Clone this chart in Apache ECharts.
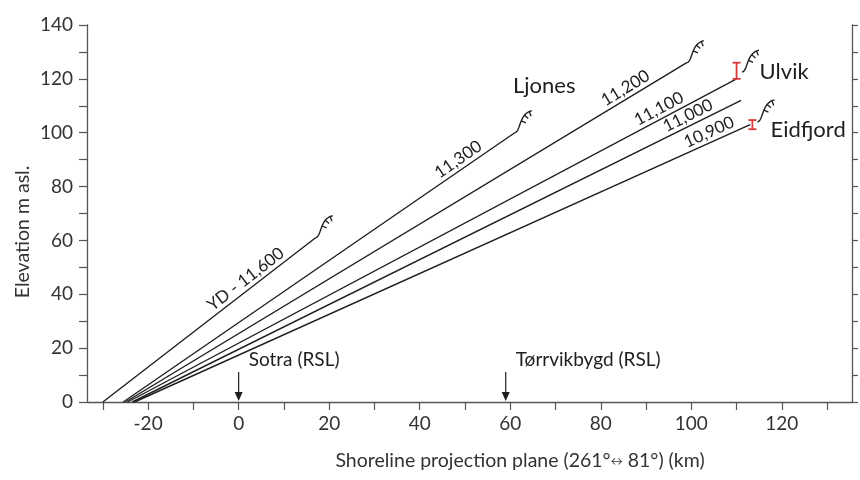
<!DOCTYPE html>
<html><head><meta charset="utf-8">
<script src="https://cdn.jsdelivr.net/npm/echarts@6/dist/echarts.min.js"></script>
<style>html,body{margin:0;padding:0;background:#fff}#c{width:860px;height:480px}</style>
</head><body><div id="c"></div>
<script>
// ---- axis values ----
const xMin = -33.5, xMax = 135.5;
const xTickValues = [-30,-20,-10,0,10,20,30,40,50,60,70,80,90,100,110,120,130];
const xLabelValues = [-20,0,20,40,60,80,100,120];
const yTickValues = [0,10,20,30,40,50,60,70,80,90,100,110,120,130,140];
const yLabelValues = [0,20,40,60,80,100,120,140];

// ---- shorelines (km, m asl.) ----
const shorelineNames = ['YD - 11,600','11,300','11,200','11,100','11,000','10,900'];
const shoreStartKm   = [-30, -25.5, -25, -24.5, -23.5, -23];
const shoreEndKm     = [17, 61, 99, 110, 111, 113];
const shoreEndElev   = [61, 100, 126, 120, 112, 103];
const labelAlong     = [0.70, 0.87, 0.90, 0.88, 0.92, 0.94];

// ---- ice-margin positions ----
const iceMarginKm   = [17, 61, 99, 111.2, 114.6];
const iceMarginElev = [61, 100, 126, 122.5, 104];

// ---- red error bars ----
const errorBarKm   = [110, 113.5];
const errorBarLow  = [120, 101.3];
const errorBarHigh = [126, 104.7];

// ---- site names ----
const siteNames = ['Ljones','Ulvik','Eidfjord'];
const siteKm    = [67.5, 120.5, 125.8];
const siteElev  = [117.3, 122.4, 101];

// ---- RSL sites ----
const rslNames = ['Sotra (RSL)','Tørrvikbygd (RSL)'];
const rslKm    = [0, 59];

const FONT = 'Lato';
const INK = '#1e1e1e';

const chart = echarts.init(document.getElementById('c'));

function shoreLabelItem(params, api){
  const i = params.dataIndex;
  const p0 = api.coord([shoreStartKm[i], 0]);
  const p1 = api.coord([shoreEndKm[i], shoreEndElev[i]]);
  const t = labelAlong[i];
  const x = p0[0] + (p1[0]-p0[0])*t, y = p0[1] + (p1[1]-p0[1])*t;
  const a = Math.atan2(p0[1]-p1[1], p1[0]-p0[0]);
  const off = 10;
  return {type:'text', x: x - Math.sin(a)*off, y: y - Math.cos(a)*off, rotation: a,
    style:{text: shorelineNames[i], fill: INK, font: '17px ' + FONT, align:'center', verticalAlign:'middle'}};
}

function bez(p0,p1,p2,p3,t){
  const u=1-t;
  return [u*u*u*p0[0]+3*u*u*t*p1[0]+3*u*t*t*p2[0]+t*t*t*p3[0],
          u*u*u*p0[1]+3*u*u*t*p1[1]+3*u*t*t*p2[1]+t*t*t*p3[1]];
}
function iceMarginItem(params, api){
  const i = params.dataIndex;
  const p = api.coord([iceMarginKm[i], iceMarginElev[i]]);
  const P0=[0,0], P1=[6,-1], P2=[4,-19], P3=[17,-22];
  const pts=[];
  for(let k=0;k<=16;k++){ const q=bez(P0,P1,P2,P3,k/16); pts.push([p[0]+q[0], p[1]+q[1]]); }
  const children=[{type:'polyline', shape:{points:pts}, style:{stroke:INK, lineWidth:1.4, fill:null}}];
  [0.55,0.75,0.93].forEach(t=>{
    const a=bez(P0,P1,P2,P3,t), b=bez(P0,P1,P2,P3,t+0.02);
    let tx=b[0]-a[0], ty=b[1]-a[1]; const L=Math.hypot(tx,ty); tx/=L; ty/=L;
    const nx=-ty, ny=tx;
    children.push({type:'line', shape:{x1:p[0]+a[0], y1:p[1]+a[1], x2:p[0]+a[0]+nx*5, y2:p[1]+a[1]+ny*5},
      style:{stroke:INK, lineWidth:1.3}});
  });
  return {type:'group', children};
}

function errorBarItem(params, api){
  const i = params.dataIndex;
  const lo = api.coord([errorBarKm[i], errorBarLow[i]]);
  const hi = api.coord([errorBarKm[i], errorBarHigh[i]]);
  const st = {stroke:'#d83a3a', lineWidth:1.8};
  return {type:'group', children:[
    {type:'line', shape:{x1:lo[0], y1:lo[1], x2:hi[0], y2:hi[1]}, style:st},
    {type:'line', shape:{x1:lo[0]-4, y1:lo[1], x2:lo[0]+4, y2:lo[1]}, style:st},
    {type:'line', shape:{x1:hi[0]-4, y1:hi[1], x2:hi[0]+4, y2:hi[1]}, style:st}
  ]};
}

function siteItem(params, api){
  const i = params.dataIndex;
  const p = api.coord([siteKm[i], siteElev[i]]);
  return {type:'text', x:p[0], y:p[1], style:{text: siteNames[i], fill: INK, font:'22px ' + FONT, align:'center', verticalAlign:'middle'}};
}

function rslItem(params, api){
  const i = params.dataIndex;
  const p = api.coord([rslKm[i], 0]);
  const x = p[0], y0 = p[1];
  return {type:'group', children:[
    {type:'line', shape:{x1:x, y1:y0-30, x2:x, y2:y0-6}, style:{stroke:INK, lineWidth:1.2}},
    {type:'polygon', shape:{points:[[x-4,y0-10],[x+4,y0-10],[x,y0-1]]}, style:{fill:INK}},
    {type:'text', x:x+10, y:y0-42, style:{text: rslNames[i], fill: INK, font:'19px ' + FONT, align:'left', verticalAlign:'middle'}}
  ]};
}

const lineSeries = shorelineNames.map((n,i)=>({
  type:'line', name:n, data:[[shoreStartKm[i],0],[shoreEndKm[i],shoreEndElev[i]]],
  symbol:'none', lineStyle:{color:INK, width:1.4}, silent:true, z:3
}));

chart.setOption({
  animation:false,
  backgroundColor:'#fff',
  grid:{left:87, right:8, top:25, bottom:78},
  xAxis:{type:'value', min:xMin, max:xMax,
    axisLine:{show:true, onZero:false, lineStyle:{color:'#555', width:1.3}},
    axisTick:{show:true, length:8, customValues:xTickValues, lineStyle:{color:'#555', width:1.2}},
    axisLabel:{customValues:xLabelValues, margin:12, color:'#333', fontSize:19, fontFamily:FONT},
    splitLine:{show:false}},
  yAxis:[{type:'value', min:0, max:140, interval:10,
    axisLine:{show:true, onZero:false, lineStyle:{color:'#555', width:1.3}},
    axisTick:{show:true, length:8, customValues:yTickValues, lineStyle:{color:'#555', width:1.2}},
    axisLabel:{customValues:yLabelValues, margin:14, color:'#333', fontSize:19, fontFamily:FONT},
    splitLine:{show:false}},
   {type:'value', min:0, max:140, interval:10, position:'right',
    axisLine:{show:true, onZero:false, lineStyle:{color:'#555', width:1.3}},
    axisTick:{show:true, length:6, customValues:yTickValues, lineStyle:{color:'#555', width:1.2}},
    axisLabel:{show:false}, splitLine:{show:false}}],
  graphic:[
    {type:'text', x:520, y:461,
      style:{text:'Shoreline projection plane (261°{a|↔} 81°) (km)', fill:'#333', font:'19.5px ' + FONT,
        align:'center', verticalAlign:'middle', rich:{a:{fontSize:12, fontFamily:FONT, fill:'#333'}}}},
    {type:'text', x:23, y:232, rotation:Math.PI/2,
      style:{text:'Elevation m asl.', fill:'#333', font:'19.5px ' + FONT, align:'center', verticalAlign:'middle'}}
  ],
  series: lineSeries.concat([
    {type:'custom', renderItem:shoreLabelItem, data:shorelineNames.map((n,i)=>[shoreEndKm[i],shoreEndElev[i]]), silent:true, z:4},
    {type:'custom', renderItem:iceMarginItem, data:iceMarginKm.map((k,i)=>[k,iceMarginElev[i]]), silent:true, z:4},
    {type:'custom', renderItem:errorBarItem, data:errorBarKm.map((k,i)=>[k,errorBarLow[i]]), silent:true, z:5},
    {type:'custom', renderItem:siteItem, data:siteKm.map((k,i)=>[k,siteElev[i]]), silent:true, z:4},
    {type:'custom', renderItem:rslItem, data:rslKm.map(k=>[k,0]), silent:true, z:4}
  ])
});
</script></body></html>
